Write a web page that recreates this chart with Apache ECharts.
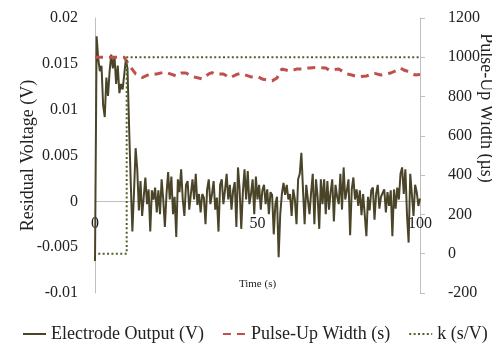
<!DOCTYPE html>
<html>
<head>
<meta charset="utf-8">
<script src="https://cdn.jsdelivr.net/npm/echarts@6/dist/echarts.min.js"></script>
<style>
  html, body { margin: 0; padding: 0; background: #fff; }
  #chart { width: 492px; height: 350px; }
</style>
</head>
<body>
<div id="chart"></div>
<script>
// electrode output sampled every 0.5 s from t = 0 to 100 s
const elecStep = 0.5;
const elecValues = [
  -0.0065, 0.018, 0.0155, 0.0142, 0.0148, 0.0105, 0.0092, 0.0135, 0.0115, 0.0142,
  0.0160, 0.0145, 0.0158, 0.0128, 0.0148, 0.0118, 0.0128, 0.0122, 0.0124, 0.0155,
  0.0145, 0.0080, 0.0020, -0.0033, 0.0010, 0.0058, 0.0035, -0.0010, 0.0022, -0.0016,
  0.0005, 0.0026, -0.0003, 0.0013, -0.0033, 0.0012, 0.0002, 0.0015, -0.0012, 0.0012,
  -0.0014, 0.0024, 0.0002, -0.0028, 0.0008, 0.0032, 0.0002, 0.0027, -0.0014, 0.0005,
  -0.0039, 0.0024, 0.0010, 0.0035, 0.0002, -0.0016, 0.0018, 0.0022, -0.0009, 0.0008,
  0.0024, 0.0002, 0.0030, -0.0004, 0.0008, -0.0012, 0.0008, 0.0004, -0.0025, 0.0013,
  0.0024, -0.0003, 0.0008, 0.0022, -0.0009, 0.0004, -0.0033, 0.0018, 0.0024, -0.0003,
  0.0012, 0.0030, 0.0002, 0.0018, -0.0009, 0.0012, 0.0021, -0.0028, 0.0037, 0.0013,
  -0.0030, 0.0010, 0.0035, 0.0002, 0.0033, -0.0003, 0.0008, 0.0024, -0.0014, 0.0027,
  0.0002, 0.0018, -0.0009, 0.0012, 0.0018, -0.0003, 0.0013, -0.0014, 0.0010, 0.0007,
  -0.0036, -0.0003, 0.0005, -0.0061, -0.0014, 0.0008, 0.0020, 0.0007, 0.0018, 0.0002,
  0.0008, -0.0016, 0.0013, 0.0002, -0.0025, 0.0024, 0.0030, 0.0053, 0.0013, -0.0025,
  0.0018, 0.0016, -0.0014, 0.0010, 0.0030, -0.0025, 0.0024, 0.0005, -0.0030, 0.0024,
  -0.0003, 0.0024, -0.0014, 0.0022, -0.0009, 0.0010, 0.0024, -0.0022, 0.0018, 0.0005,
  -0.0003, 0.0030, -0.0009, 0.0037, 0.0002, 0.0012, 0.0024, -0.0037, 0.0013, 0.0026,
  0.0002, 0.0013, -0.0005, 0.0012, -0.0015, 0.0008, 0.0010, -0.0038, 0.0005, -0.0010,
  0.0012, 0.0015, -0.0020, 0.0008, 0.0018, -0.0008, 0.0005, 0.0005, 0.0013, -0.0012,
  0.0010, -0.0005, 0.0012, -0.0038, 0.0013, -0.0008, 0.0015, 0.0002, 0.0030, 0.0037,
  0.0008, 0.0035, -0.0015, -0.0045, 0.0030, 0.0008, -0.0016, 0.0018, 0.0010, -0.0005,
  0.0003
];

const pulseTime = [0, 9, 10.5, 12.5, 14.5, 17, 19, 21.5, 25, 26.5, 28, 30, 33, 35, 36, 37,
  39.5, 41.5, 43.5, 45, 46, 48, 50, 51.7, 54.5, 56, 57.5, 60, 62, 64, 66, 68, 71, 72, 75,
  77.5, 79, 81, 83.5, 86, 88, 91, 93, 94, 95, 96, 98.5, 100];
const pulseValues = [1000, 1000, 960, 915, 897, 915, 915, 925, 905, 920, 920, 902, 890, 915, 922, 915,
  915, 895, 912, 918, 912, 900, 902, 888, 880, 895, 940, 930, 940, 940, 946, 948, 945, 935, 940,
  915, 910, 900, 905, 918, 910, 920, 935, 945, 935, 930, 910, 912];

const kTime = [1, 9.75, 100];
const kValues = [0, 1000, 1000];

const seriesNames = ['Electrode Output (V)', 'Pulse-Up Width (s)', 'k (s/V)'];

const font = '"Liberation Serif", "Times New Roman", serif';
const axisGrey = '#bfbfbf';

const chart = echarts.init(document.getElementById('chart'));

const option = {
  animation: false,
  textStyle: { fontFamily: font, color: '#222' },
  grid: { left: 95, right: 72, top: 18, bottom: 57, outerBoundsMode: 'none', containLabel: false },
  legend: {
    bottom: 2,
    left: 17,
    width: 480,
    itemWidth: 23,
    itemHeight: 12,
    itemGap: 18,
    textStyle: { fontFamily: font, fontSize: 18, color: '#222' },
    itemStyle: { color: 'rgba(0,0,0,0)', borderColor: 'rgba(0,0,0,0)', borderWidth: 0, opacity: 0 },
    data: seriesNames
  },
  xAxis: {
    type: 'value',
    min: 0,
    max: 100,
    interval: 50,
    // x axis sits on the zero line of the left axis
    offset: -92,
    name: 'Time (s)',
    nameLocation: 'middle',
    nameGap: 78,
    nameMoveOverlap: false,
    nameTextStyle: { fontFamily: font, fontSize: 11, color: '#222' },
    axisLine: { onZero: false, lineStyle: { color: axisGrey } },
    axisTick: { show: false },
    axisLabel: { fontFamily: font, fontSize: 16, color: '#222', margin: 15 },
    splitLine: { show: false }
  },
  yAxis: [
    {
      type: 'value',
      min: -0.01,
      max: 0.02,
      interval: 0.005,
      name: 'Residual Voltage (V)',
      nameLocation: 'middle',
      nameGap: 58,
      nameMoveOverlap: false,
      nameTextStyle: { fontFamily: font, fontSize: 18, color: '#222' },
      axisLine: { show: true, lineStyle: { color: axisGrey } },
      axisTick: { show: false },
      axisLabel: { fontFamily: font, fontSize: 16, color: '#222', margin: 17 },
      splitLine: { show: false }
    },
    {
      type: 'value',
      min: -200,
      max: 1200,
      interval: 200,
      position: 'right',
      axisLine: { show: true, lineStyle: { color: axisGrey } },
      axisTick: { show: true, length: 5, inside: false, lineStyle: { color: axisGrey } },
      axisLabel: { fontFamily: font, fontSize: 16, color: '#222', margin: 28, formatter: v => String(v) },
      splitLine: { show: false }
    }
  ],
  graphic: [
    {
      type: 'text',
      x: 486,
      y: 108,
      rotation: -Math.PI / 2,
      style: {
        text: 'Pulse-Up Width (µs)',
        font: '18px ' + font,
        fill: '#222',
        textAlign: 'center',
        textVerticalAlign: 'middle'
      }
    }
  ],
  series: [
    {
      name: seriesNames[0],
      type: 'line',
      yAxisIndex: 0,
      showSymbol: false,
      symbol: 'none',
      data: elecValues.map((v, i) => [i * elecStep, v]),
      lineStyle: { color: '#4a4529', width: 2 },
      itemStyle: { color: '#4a4529' },
      z: 2
    },
    {
      name: seriesNames[1],
      type: 'line',
      yAxisIndex: 1,
      showSymbol: false,
      symbol: 'none',
      data: pulseTime.map((t, i) => [t, pulseValues[i]]),
      lineStyle: { color: '#c0504d', width: 3, type: [8, 6] },
      itemStyle: { color: '#c0504d' },
      z: 3
    },
    {
      name: seriesNames[2],
      type: 'line',
      yAxisIndex: 1,
      showSymbol: false,
      symbol: 'none',
      step: 'end',
      data: kTime.map((t, i) => [t, kValues[i]]),
      lineStyle: { color: '#4f6228', width: 2, type: [2, 2.4] },
      itemStyle: { color: '#4f6228' },
      z: 4
    }
  ]
};

chart.setOption(option);
</script>
</body>
</html>
